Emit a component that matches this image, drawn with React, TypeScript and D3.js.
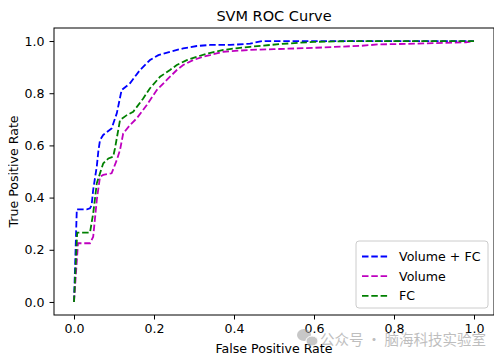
import React, { useEffect, useRef } from 'react';
import * as d3 from 'd3';

const seriesNames = ['Volume + FC', 'Volume', 'FC'];
const seriesColors = ['#0000ff', '#bf00bf', '#008000'];

const fprVolumeFC = [0, 0.007, 0.032, 0.04, 0.044, 0.048, 0.053, 0.057, 0.061, 0.065, 0.073, 0.094, 0.107, 0.119, 0.14, 0.165, 0.19, 0.211, 0.24, 0.273, 0.307, 0.34, 0.39, 0.44, 0.47, 1];
const tprVolumeFC = [0, 0.355, 0.355, 0.359, 0.37, 0.43, 0.48, 0.52, 0.58, 0.62, 0.64, 0.665, 0.723, 0.812, 0.838, 0.889, 0.927, 0.946, 0.959, 0.972, 0.981, 0.985, 0.985, 0.99, 1, 1];

const fprVolume = [0, 0.01, 0.04, 0.048, 0.057, 0.065, 0.073, 0.094, 0.107, 0.115, 0.123, 0.14, 0.157, 0.182, 0.207, 0.232, 0.257, 0.273, 0.298, 0.323, 0.34, 0.373, 0.44, 0.5, 0.6, 0.72, 0.76, 0.88, 0.98, 1];
const tprVolume = [0, 0.225, 0.225, 0.25, 0.391, 0.48, 0.487, 0.493, 0.544, 0.582, 0.646, 0.678, 0.704, 0.755, 0.812, 0.851, 0.889, 0.908, 0.927, 0.94, 0.946, 0.959, 0.966, 0.969, 0.974, 0.982, 0.987, 0.991, 0.995, 1];

const fprFC = [0, 0.008, 0.04, 0.048, 0.057, 0.065, 0.073, 0.086, 0.098, 0.1025, 0.115, 0.132, 0.148, 0.173, 0.19, 0.215, 0.24, 0.257, 0.282, 0.307, 0.336, 0.373, 0.415, 0.44, 0.52, 0.6, 0.7, 1];
const tprFC = [0, 0.266, 0.266, 0.34, 0.455, 0.493, 0.531, 0.55, 0.557, 0.589, 0.697, 0.716, 0.729, 0.78, 0.819, 0.863, 0.889, 0.908, 0.927, 0.94, 0.953, 0.966, 0.974, 0.978, 0.989, 0.997, 1, 1];

const tickValues = [0, 0.2, 0.4, 0.6, 0.8, 1.0];

const width = 502;
const height = 361;
const margin = { top: 28, right: 8, bottom: 46, left: 54 };
const font = '"DejaVu Sans", sans-serif';
const fontSize = 12.6;

function App() {
  const ref = useRef<SVGSVGElement>(null);

  useEffect(() => {
    const svg = d3.select(ref.current);
    svg.selectAll('*').remove();

    const x = d3.scaleLinear().domain([-0.05, 1.05]).range([margin.left, width - margin.right]);
    const y = d3.scaleLinear().domain([-0.05, 1.05]).range([height - margin.bottom, margin.top]);

    svg.append('rect').attr('width', width).attr('height', height).attr('fill', '#fff');

    const series = [
      { fpr: fprVolumeFC, tpr: tprVolumeFC },
      { fpr: fprVolume, tpr: tprVolume },
      { fpr: fprFC, tpr: tprFC }
    ];

    const line = d3
      .line<[number, number]>()
      .x(d => x(d[0]))
      .y(d => y(d[1]));

    series.forEach((s, i) => {
      const pts = s.fpr.map((f, j) => [f, s.tpr[j]] as [number, number]);
      svg
        .append('path')
        .attr('d', line(pts))
        .attr('fill', 'none')
        .attr('stroke', seriesColors[i])
        .attr('stroke-width', 1.8)
        .attr('stroke-dasharray', '6.5,2.8');
    });

    // Axes
    const xAxis = svg
      .append('g')
      .attr('transform', `translate(0, ${height - margin.bottom})`)
      .call(d3.axisBottom(x).tickValues(tickValues).tickFormat(d3.format('.1f')).tickSizeOuter(0).tickSize(4.5).tickPadding(4.5));
    const yAxis = svg
      .append('g')
      .attr('transform', `translate(${margin.left}, 0)`)
      .call(d3.axisLeft(y).tickValues(tickValues).tickFormat(d3.format('.1f')).tickSizeOuter(0).tickSize(4.5).tickPadding(5));
    [xAxis, yAxis].forEach(a => {
      a.select('.domain').remove();
      a.selectAll('text').attr('font-family', font).attr('font-size', fontSize).attr('fill', '#000');
      a.selectAll('line').attr('stroke', '#000').attr('stroke-width', 1);
    });

    // Frame
    svg
      .append('rect')
      .attr('x', margin.left)
      .attr('y', margin.top)
      .attr('width', width - margin.left - margin.right)
      .attr('height', height - margin.top - margin.bottom)
      .attr('fill', 'none')
      .attr('stroke', '#000')
      .attr('stroke-width', 1);

    const cx = (margin.left + width - margin.right) / 2;

    svg
      .append('text')
      .attr('x', cx)
      .attr('y', 21)
      .attr('text-anchor', 'middle')
      .attr('font-family', font)
      .attr('font-size', 14.5)
      .text('SVM ROC Curve');

    svg
      .append('text')
      .attr('x', cx)
      .attr('y', 353)
      .attr('text-anchor', 'middle')
      .attr('font-family', font)
      .attr('font-size', fontSize)
      .text('False Positive Rate');

    svg
      .append('text')
      .attr('transform', `translate(18, ${(margin.top + height - margin.bottom) / 2}) rotate(-90)`)
      .attr('text-anchor', 'middle')
      .attr('font-family', font)
      .attr('font-size', fontSize)
      .text('True Positive Rate');

    // Legend
    const legend = svg.append('g').attr('transform', 'translate(356, 241)');
    legend
      .append('rect')
      .attr('width', 132)
      .attr('height', 67)
      .attr('rx', 3)
      .attr('fill', '#fff')
      .attr('fill-opacity', 0.8)
      .attr('stroke', '#cccccc')
      .attr('stroke-width', 1);
    seriesNames.forEach((name, i) => {
      const ly = 15.5 + i * 19.7;
      legend
        .append('line')
        .attr('x1', 6)
        .attr('x2', 33)
        .attr('y1', ly)
        .attr('y2', ly)
        .attr('stroke', seriesColors[i])
        .attr('stroke-width', 1.8)
        .attr('stroke-dasharray', '6.5,2.8');
      legend
        .append('text')
        .attr('x', 43)
        .attr('y', ly + 4.5)
        .attr('font-family', font)
        .attr('font-size', fontSize)
        .text(name);
    });

    // Watermark
    const wm = svg.append('g').attr('opacity', 0.55);
    wm.append('ellipse').attr('cx', 304).attr('cy', 335).attr('rx', 7).attr('ry', 6).attr('fill', '#9a9a9a');
    wm.append('ellipse').attr('cx', 312).attr('cy', 341).attr('rx', 6).attr('ry', 5).attr('fill', '#9a9a9a').attr('stroke', '#fff').attr('stroke-width', 1);
    wm.append('text')
      .attr('x', 320)
      .attr('y', 345)
      .attr('font-family', '"Noto Sans CJK SC", sans-serif')
      .attr('font-size', 14.5)
      .attr('fill', '#8a8a8a')
      .text('公众号 · 脑海科技实验室');
  }, []);

  return <svg ref={ref} width={width} height={height} style={{ display: 'block', margin: -8 }} />;
}

export default App;
